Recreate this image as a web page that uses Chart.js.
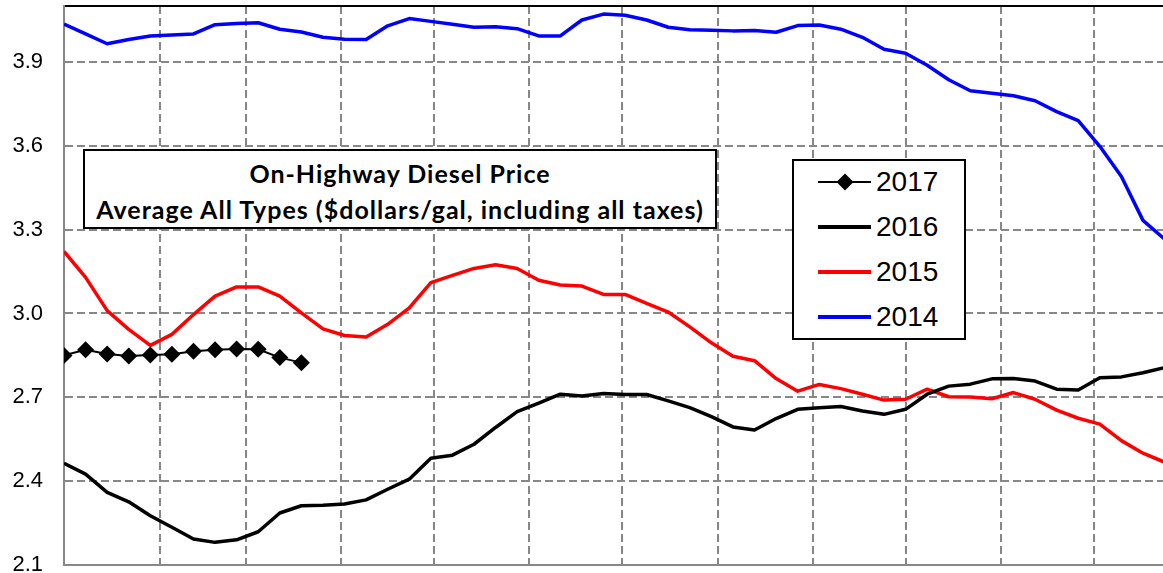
<!DOCTYPE html>
<html>
<head>
<meta charset="utf-8">
<script src="https://cdn.jsdelivr.net/npm/chart.js@4.4.1/dist/chart.umd.min.js"></script>
<style>
html,body{margin:0;padding:0;background:#fff;overflow:hidden;width:1163px;height:573px;}
#wrap{position:relative;width:1163px;height:573px;overflow:hidden;}
#c{position:absolute;left:0;top:0;}
.box{position:absolute;background:#fff;border:2px solid #000;box-sizing:border-box;}
#title{left:83px;top:149px;width:634px;height:80px;font-family:Lato,'Open Sans',sans-serif;font-weight:bold;font-size:25px;letter-spacing:1px;color:#000;text-align:center;}
#title div{position:absolute;left:0;right:0;height:30px;line-height:30px;white-space:nowrap;}
#legend{left:792px;top:159px;width:174px;height:181px;font-family:'Liberation Sans',Arial,sans-serif;font-size:28px;color:#000;}
.sample{position:absolute;}
.diamond{position:absolute;background:#000;transform:rotate(45deg);}
.label{position:absolute;height:32px;line-height:32px;white-space:nowrap;}
</style>
</head>
<body>
<div id="wrap">
  <canvas id="c" width="1163" height="573"></canvas>
  <div id="title" class="box">
    <div style="top:7px">On-Highway Diesel Price</div>
    <div style="top:43px">Average All Types ($dollars/gal, including all taxes)</div>
  </div>
  <div id="legend" class="box"></div>
</div>
<script>
// Week start, as day of year
const dayOfYear = [0,7,14,21,28,35,42,49,56,63,70,77,84,91,98,105,112,119,126,133,140,147,154,161,168,175,182,189,196,203,210,217,224,231,238,245,252,259,266,273,280,287,294,301,308,315,322,329,336,343,350,357];
// Month boundaries (day of year) for vertical grid lines
const monthStarts = [31,59,90,120,151,181,212,243,273,304,334];
// Y tick labels
const yTicks = [2.1,2.4,2.7,3.0,3.3,3.6,3.9];

const seriesNames = ['2017','2016','2015','2014'];

const price2017 = [2.850,2.870,2.855,2.848,2.851,2.854,2.865,2.870,2.873,2.872,2.842,2.824];

const price2016 = [2.464,2.425,2.360,2.326,2.276,2.235,2.193,2.181,2.190,2.219,
                   2.286,2.312,2.314,2.318,2.333,2.371,2.407,2.482,2.493,2.532,
                   2.592,2.649,2.679,2.711,2.705,2.714,2.710,2.710,2.687,2.663,
                   2.631,2.594,2.583,2.624,2.657,2.663,2.667,2.651,2.639,2.657,
                   2.711,2.740,2.747,2.766,2.767,2.758,2.729,2.726,2.770,2.773,
                   2.788,2.806];

const price2015 = [3.222,3.129,3.010,2.943,2.886,2.925,2.996,3.062,3.095,3.095,
                   3.062,3.002,2.945,2.921,2.916,2.961,3.020,3.110,3.136,3.161,
                   3.174,3.161,3.119,3.102,3.098,3.068,3.068,3.036,3.005,2.952,
                   2.895,2.847,2.831,2.767,2.722,2.746,2.731,2.711,2.690,2.693,
                   2.729,2.702,2.701,2.695,2.717,2.693,2.654,2.625,2.604,2.545,
                   2.500,2.468];

const price2014 = [4.035,4.000,3.965,3.980,3.993,3.996,4.000,4.033,4.037,4.040,
                   4.017,4.007,3.988,3.981,3.980,4.029,4.055,4.045,4.035,4.024,
                   4.026,4.019,3.993,3.993,4.050,4.071,4.067,4.050,4.024,4.015,
                   4.013,4.011,4.012,4.006,4.030,4.032,4.017,3.988,3.945,3.931,
                   3.888,3.836,3.797,3.788,3.779,3.761,3.722,3.690,3.598,3.490,
                   3.333,3.266];

const toPts = arr => arr.map((v, i) => ({x: dayOfYear[i], y: v}));

const GRID = '#878787';

const datasets = [
  {label: seriesNames[0], data: toPts(price2017), borderColor:'#000', backgroundColor:'#000',
   borderWidth:2, pointStyle:'rectRot', pointRadius:8.5, pointHoverRadius:8.5, pointBorderWidth:0},
  {label: seriesNames[1], data: toPts(price2016), borderColor:'#000', backgroundColor:'#000',
   borderWidth:3.5, pointRadius:0},
  {label: seriesNames[2], data: toPts(price2015), borderColor:'#ff0000', backgroundColor:'#ff0000',
   borderWidth:3.5, pointRadius:0},
  {label: seriesNames[3], data: toPts(price2014), borderColor:'#0000ff', backgroundColor:'#0000ff',
   borderWidth:3.5, pointRadius:0}
];

const chart = new Chart(document.getElementById('c'), {
  type: 'line',
  data: {datasets},
  options: {
    responsive:false,
    animation:false,
    events:[],
    layout:{autoPadding:false,padding:{top:6,bottom:8,left:0,right:0}},
    elements:{line:{tension:0,borderJoinStyle:'round'}},
    plugins:{legend:{display:false},tooltip:{enabled:false},title:{display:false}},
    scales:{
      x:{type:'linear',position:'bottom',min:0,max:356.5,
        afterBuildTicks:s=>{s.ticks = monthStarts.map(v=>({value:v}));},
        ticks:{display:false},
        grid:{color:GRID,lineWidth:2,drawTicks:false},
        border:{display:true,color:GRID,width:2,dash:[8,4]}},
      xTop:{type:'linear',position:'top',min:0,max:356.5,display:true,
        ticks:{display:false},
        grid:{display:false,drawTicks:false},
        border:{display:true,color:'#000',width:2}},
      y:{type:'linear',min:2.1,max:4.1,
        afterBuildTicks:s=>{s.ticks = yTicks.map(v=>({value:v}));},
        afterFit:s=>{s.width=64;s.paddingTop=0;s.paddingBottom=0;},
        ticks:{color:'#000',padding:21,font:{family:"'Liberation Sans', Arial, sans-serif",size:22},
          callback:v=>Number(v).toFixed(1)},
        grid:{color:GRID,lineWidth:2,drawTicks:false},
        border:{display:true,color:GRID,width:2,dash:[8,4]}}
    }
  }
});

// HTML legend built from datasets
const legend = document.getElementById('legend');
const rowCenters = [21,66,111,156];
chart.data.datasets.forEach((ds, i) => {
  const cy = rowCenters[i];
  const line = document.createElement('div');
  line.className = 'sample';
  const bw = ds.borderWidth;
  line.style.cssText = `left:24px;width:53px;top:${cy-bw/2}px;height:${bw}px;background:${ds.borderColor};`;
  legend.appendChild(line);
  if (ds.pointStyle === 'rectRot') {
    const d = document.createElement('div');
    d.className = 'diamond';
    const s = 12;
    d.style.cssText = `left:${50.5-s/2}px;top:${cy-s/2}px;width:${s}px;height:${s}px;background:${ds.backgroundColor};`;
    legend.appendChild(d);
  }
  const t = document.createElement('div');
  t.className = 'label';
  t.style.top = (cy-16)+'px';
  t.style.left = '82px';
  t.textContent = ds.label;
  legend.appendChild(t);
});
</script>
</body>
</html>
